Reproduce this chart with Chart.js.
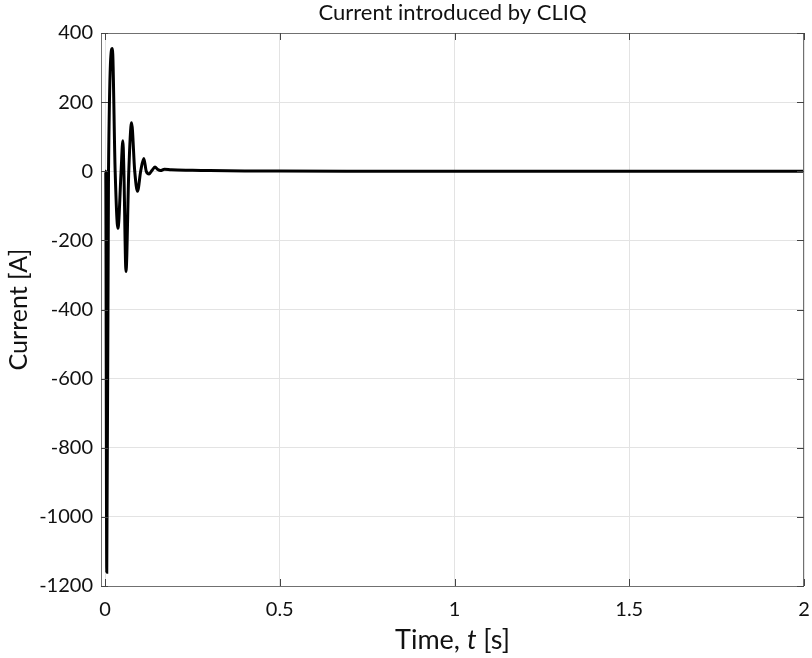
<!DOCTYPE html>
<html>
<head>
<meta charset="utf-8">
<script src="https://cdn.jsdelivr.net/npm/chart.js@4/dist/chart.umd.min.js"></script>
<style>
    html, body { margin: 0; padding: 0; background: #ffffff; }
    #wrap { width: 812px; height: 658px; }
</style>
</head>
<body>
<div id="wrap"><canvas id="chart" width="812" height="658"></canvas></div>
<script>
// Data
const timeValues = [0, 0.002, 0.005, 0.010, 0.021, 0.029, 0.037, 0.046, 0.051, 0.054, 0.060, 0.068, 0.076,
    0.085, 0.093, 0.102, 0.111, 0.118, 0.126, 0.134, 0.143, 0.151, 0.159, 0.170, 0.190,
    0.25, 0.30, 0.40, 0.50, 0.70, 1.0, 1.5, 2.0];
const currentValues = [0, 0, -1160, 0, 355, 0, -165, 0, 88, 0, -290, 0, 140,
    0, -58, 0, 37, 0, -8, 2, 12, 5, 2, 6, 4,
    3, 2, 1, 0.5, 0, 0, 0, 0];
const xTicks = [0, 0.5, 1, 1.5, 2];
const xTickLabels = ['0', '0.5', '1', '1.5', '2'];
const yTicks = [400, 200, 0, -200, -400, -600, -800, -1000, -1200];

const titleText = 'Current introduced by CLIQ';
const yTitleText = 'Current [A]';

const FONT = 'Lato, "Open Sans", sans-serif';
const TEXT_COLOR = '#111111';
const GRID_COLOR = '#e3e3e3';
const BOX_COLOR = '#707070';

// Draws the box round the plot, the title and the x axis title (with italic t)
const decorPlugin = {
    id: 'decor',
    afterDraw(chart) {
        const ctx = chart.ctx;
        const area = chart.chartArea;
        ctx.save();
        ctx.strokeStyle = BOX_COLOR;
        ctx.lineWidth = 1;
        ctx.strokeRect(area.left + 0.5, area.top + 0.5, area.right - area.left - 1, area.bottom - area.top);

        // inward tick marks like the original
        const xScale = chart.scales.x;
        const yScale = chart.scales.y;
        ctx.strokeStyle = '#444444';
        ctx.beginPath();
        xTicks.forEach(function (t) {
            const px = Math.round(xScale.getPixelForValue(t)) + 0.5;
            ctx.moveTo(px, area.bottom);
            ctx.lineTo(px, area.bottom - 7);
            ctx.moveTo(px, area.top);
            ctx.lineTo(px, area.top + 7);
        });
        yTicks.forEach(function (v) {
            const py = Math.round(yScale.getPixelForValue(v)) + 0.5;
            ctx.moveTo(area.left, py);
            ctx.lineTo(area.left + 7, py);
            ctx.moveTo(area.right, py);
            ctx.lineTo(area.right - 7, py);
        });
        ctx.stroke();

        const cx = (area.left + area.right) / 2;
        ctx.fillStyle = TEXT_COLOR;
        ctx.textBaseline = 'middle';
        ctx.textAlign = 'center';
        ctx.font = `22px ${FONT}`;
        ctx.fillText(titleText, cx, 13);

        // x axis title in three parts
        const parts = [
            { text: 'Time, ', font: `27px ${FONT}` },
            { text: 't', font: `italic 27px ${FONT}` },
            { text: ' [s]', font: `27px ${FONT}` }
        ];
        let total = 0;
        parts.forEach(function (p) {
            ctx.font = p.font;
            p.w = ctx.measureText(p.text).width;
            total += p.w;
        });
        let x = cx - total / 2;
        ctx.textAlign = 'left';
        parts.forEach(function (p) {
            ctx.font = p.font;
            ctx.fillText(p.text, x, 640);
            x += p.w;
        });
        ctx.restore();
    }
};

const points = timeValues.map(function (t, i) {
    return { x: t, y: currentValues[i] };
});

new Chart(document.getElementById('chart'), {
    type: 'line',
    data: {
        datasets: [{
            data: points,
            borderColor: '#000000',
            borderWidth: 3,
            pointRadius: 0,
            cubicInterpolationMode: 'monotone',
            fill: false
        }]
    },
    options: {
        responsive: false,
        animation: false,
        layout: { padding: { top: 33, right: 0, left: 0, bottom: 0 } },
        plugins: {
            legend: { display: false },
            tooltip: { enabled: false },
            title: { display: false }
        },
        scales: {
            x: {
                type: 'linear',
                min: -0.0115,
                max: 2,
                afterFit(scale) {
                    scale.height = 72;
                    scale.paddingRight = 8;
                },
                afterBuildTicks(scale) {
                    scale.ticks = xTicks.map(function (v) { return { value: v }; });
                },
                grid: { color: GRID_COLOR, drawTicks: false },
                border: { display: false },
                ticks: {
                    padding: 12,
                    color: TEXT_COLOR,
                    font: { family: FONT, size: 20 },
                    maxRotation: 0,
                    autoSkip: false,
                    callback: function (value) {
                        const i = xTicks.indexOf(value);
                        return i >= 0 ? xTickLabels[i] : '';
                    }
                }
            },
            y: {
                type: 'linear',
                min: -1200,
                max: 400,
                afterFit(scale) { scale.width = 101; },
                afterBuildTicks(scale) {
                    scale.ticks = yTicks.map(function (v) { return { value: v }; });
                },
                grid: { color: GRID_COLOR, drawTicks: false },
                border: { display: false },
                ticks: {
                    padding: 8,
                    color: TEXT_COLOR,
                    font: { family: FONT, size: 20 },
                    autoSkip: false,
                    callback: function (value) { return String(value); }
                },
                title: {
                    display: true,
                    text: yTitleText,
                    color: TEXT_COLOR,
                    font: { family: FONT, size: 25 },
                    padding: { top: 4, bottom: 0 }
                }
            }
        }
    },
    plugins: [decorPlugin]
});
</script>
</body>
</html>
